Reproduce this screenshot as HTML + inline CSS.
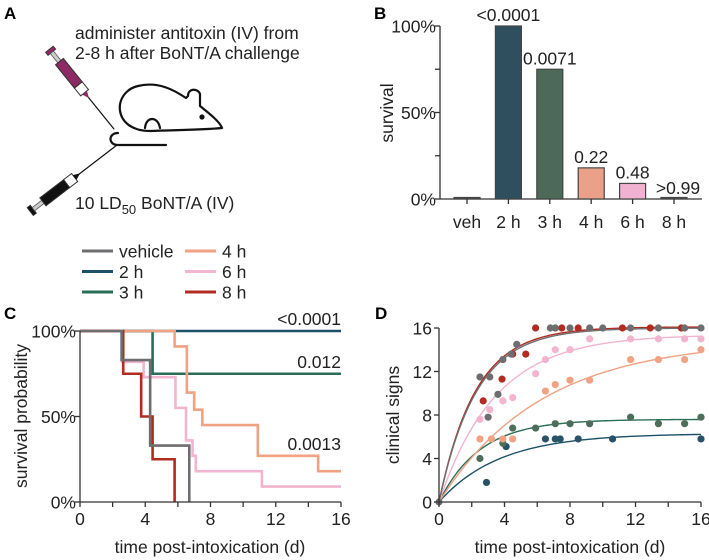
<!DOCTYPE html>
<html><head><meta charset="utf-8"><style>
body{margin:0;background:#fff;}
svg{display:block;font-family:"Liberation Sans",Arial,sans-serif;}
</style></head><body>
<svg id="fig" width="709" height="560" viewBox="0 0 709 560" xmlns="http://www.w3.org/2000/svg">
<!-- Panel A -->
<g>
<text x="4" y="19" font-size="17" font-weight="bold">A</text>
<text x="75" y="39" font-size="17.5" fill="#222">administer antitoxin (IV) from</text>
<text x="75" y="59" font-size="17.5" fill="#222">2-8 h after BoNT/A challenge</text>
<text x="75" y="209" font-size="17.5" fill="#222">10 LD<tspan font-size="13" dy="5">50</tspan><tspan dy="-5"> BoNT/A (IV)</tspan></text>
<g fill="none" stroke="#111" stroke-width="2.2" stroke-linecap="round" stroke-linejoin="round">
<path d="M150,131 C112,131 112,92 138,86 C158,81 174,90 186,98 L188,96 C188,88 198,88 200,94 L200,106 C210,114 220,122 222,128 C200,130 175,130 150,131"/>
<path d="M145,128 C146,116 158,116 160,128"/>
<path d="M118,133 C108,133 108,145 118,145 L166,145"/>
<circle cx="202" cy="117" r="1.5" fill="#111"/>
</g>
<g transform="translate(50,50) rotate(51)">
<line x1="60" y1="0" x2="102" y2="0" stroke="#111" stroke-width="1.2"/>
<rect x="-1" y="-5" width="4" height="10" fill="#8b2a63" stroke="#333" stroke-width="0.8"/>
<rect x="3" y="-2" width="12" height="4" fill="#ccc" stroke="#555" stroke-width="0.8"/>
<rect x="15" y="-5" width="30" height="10" fill="#8b2a63" stroke="#333" stroke-width="1"/>
<rect x="45" y="-5" width="10" height="10" fill="#fff" stroke="#333" stroke-width="1"/>
<polygon points="55,-3 62,0 55,3" fill="#8b2a63"/>
</g>
<g transform="translate(31,211) rotate(-37.5)">
<line x1="60" y1="0" x2="108" y2="0" stroke="#111" stroke-width="1.2"/>
<rect x="-1" y="-5" width="4" height="10" fill="#111" stroke="#333" stroke-width="0.8"/>
<rect x="3" y="-2" width="12" height="4" fill="#ccc" stroke="#555" stroke-width="0.8"/>
<rect x="15" y="-5" width="30" height="10" fill="#111" stroke="#333" stroke-width="1"/>
<rect x="45" y="-5" width="10" height="10" fill="#fff" stroke="#333" stroke-width="1"/>
<polygon points="55,-3 62,0 55,3" fill="#111"/>
</g>
</g>
<!-- Legend -->
<g id="legend"></g>
<!-- Panel B -->
<g id="pb">
<text x="374" y="19" font-size="17" font-weight="bold">B</text>
</g>
<!-- Panel C -->
<g id="pc">
<text x="4" y="319" font-size="17" font-weight="bold">C</text>
</g>
<!-- Panel D -->
<g id="pd">
<text x="375" y="319" font-size="17" font-weight="bold">D</text>
</g>
</svg>
<script>
// ---- shared series ----
const groups = ["vehicle","2 h","3 h","4 h","6 h","8 h"];
const lineColors = ["#6d6e70","#1c5068","#2a6e55","#f0a283","#f2b4cf","#b22b20"];
// ---- Panel B data ----
const barCats = ["veh","2 h","3 h","4 h","6 h","8 h"];
const barVals = [0,100,75,18,9,0];
const barPvals = ["","<0.0001","0.0071","0.22","0.48",">0.99"];
const barFills = ["#555","#2f4f5f","#4d6a58","#eba08a","#f1b2d2","#555"];
const bTicks = [0,50,100];
// ---- Panel C data (Kaplan-Meier steps: [time, survival after]) ----
const kmVehicle = [[0,100],[2.55,83],[4.3,33],[6.7,0]];
const km2h = [[0,100]];
const km3h = [[0,100],[4.45,75]];
const km4h = [[0,100],[5.8,91],[6.55,64],[7.0,54],[7.5,45],[10.9,27],[14.6,18]];
const km6h = [[0,100],[2.6,82],[3.9,73],[5.85,55],[6.5,36],[6.9,27],[7.1,18],[11.15,9]];
const km8h = [[0,100],[2.65,75],[3.75,50],[4.45,25],[5.8,0]];
const kmEnd = [6.7,16,16,16,16,5.8];
const kmPvals = [["<0.0001",100],["0.012",75],["0.0013",27]];
const cXTicks = [0,4,8,12,16];
const cYTicks = [0,50,100];
// ---- Panel D data ----
const ptsVehicle = [[0,0],[2.5,11.5],[3.1,11.5],[3.0,7.8],[3.6,9.9],[3.9,13.1],[4.4,13.6],[4.75,14.5],[6.8,16],[7.1,16],[8,16],[9.2,16],[10,16],[11.7,16],[13.4,16],[15,16],[16,16]];
const pts2h = [[2.9,1.8],[4.1,5.1],[6.5,5.8],[7.1,5.8],[7.4,5.8],[8.5,5.8],[10.6,5.8],[16,5.8]];
const pts3h = [[2.5,4],[3.9,5.4],[4.5,6.8],[5.9,6.8],[7.1,7.2],[8,7.2],[9.2,7.2],[11.7,7.8],[13.4,7.2],[15,7.2],[16,7.8]];
const pts4h = [[2.5,5.8],[3.2,5.8],[3.9,5.8],[4.5,5.8],[6.5,10.2],[7.1,10.8],[8,11.2],[9.2,11.2],[11.7,13.1],[13.4,13.1],[15,13.1],[16,14]];
const pts6h = [[2.5,7.6],[3.1,8.5],[3.9,9.3],[4.5,9.6],[5.9,11.8],[6.5,13.1],[7.1,14],[8,14],[9.2,15],[11.7,15],[13.4,15],[15,15],[16,15]];
const pts8h = [[2.7,9.3],[3.85,11.3],[4.5,13.6],[5.3,13.6],[5.9,16],[7.1,16],[7.5,16],[8.5,16],[11.2,16],[12.9,16],[14.8,16]];
const fitMax = [16.0,6.3,7.6,14.9,15.4,16.1];
const fitRate = [0.44,0.27,0.40,0.16,0.29,0.45];
const dTicks = [0,4,8,12,16];

const FS=17.5, BO=6.3;
const NS="http://www.w3.org/2000/svg";
function mk(tag,attrs,parent){const e=document.createElementNS(NS,tag);for(const k in attrs)e.setAttribute(k,attrs[k]);parent.appendChild(e);return e;}
function txt(s,attrs,parent){const e=mk("text",attrs,parent);e.textContent=s;return e;}

// Legend
const lg=document.getElementById("legend");
groups.forEach((g,i)=>{
  const col=i<3?0:1,row=i%3;
  const x=col?185:82, y=251+row*20.5;
  const item=mk("g",{},lg);
  
  
  mk("line",{x1:x,y1:y,x2:x+31,y2:y,stroke:lineColors[i],"stroke-width":3},item);
  txt(g,{x:x+37,y:y+BO,"font-size":FS,fill:"#222"},item);
});

// Panel B
const pb=document.getElementById("pb");
const bx0=440,bx1=702,by0=199,by1=26;
const bY=v=>by0+(by1-by0)*v/100;
const bX=i=>467+i*41.4;
mk("line",{x1:bx0,y1:by1,x2:bx0,y2:by0,stroke:"#333","stroke-width":1.3},pb);
mk("line",{x1:bx0,y1:by0,x2:bx1,y2:by0,stroke:"#333","stroke-width":1.3},pb);
[0,25,50,75,100].forEach(v=>mk("line",{x1:bx0-5,y1:bY(v),x2:bx0,y2:bY(v),stroke:"#333","stroke-width":1.3},pb));
bTicks.forEach(v=>{const t=txt(v+"%",{x:bx0-4,y:bY(v)+BO,"font-size":FS,"text-anchor":"end",fill:"#222"},pb);
  });
const yt=txt("survival",{x:0,y:0,"font-size":FS,"text-anchor":"middle",fill:"#222",transform:"translate(393,113) rotate(-90)"},pb);

barCats.forEach((c,i)=>{
  const h=Math.max(bY(0)-bY(barVals[i]),1.5);
  const r=mk("rect",{x:bX(i)-13,y:bY(0)-h,width:26,height:h,fill:barFills[i],stroke:"#444","stroke-width":1.2},pb);
  
  mk("line",{x1:bX(i),y1:by0,x2:bX(i),y2:by0+5,stroke:"#333","stroke-width":1.3},pb);
  const l=txt(c,{x:bX(i),y:228,"font-size":FS,"text-anchor":"middle",fill:"#222"},pb);
  
  if(barPvals[i]){const p=txt(barPvals[i],{x:bX(i)+(i==5?4:0),y:bY(barVals[i])-5,"font-size":FS,"text-anchor":"middle",fill:"#222"},pb);
    }
});

// Panel C
const pc=document.getElementById("pc");
const cX=t=>80+t*(341-80)/16, cY=v=>502+(331-502)*v/100;
const kms=[kmVehicle,km2h,km3h,km4h,km6h,km8h];
[2,1,3,4,5,0].forEach(i=>{
  const s=kms[i];let d="M"+cX(0)+","+cY(s[0][1]);
  for(let k=1;k<s.length;k++){d+=" H"+cX(s[k][0])+" V"+cY(s[k][1]);}
  d+=" H"+cX(kmEnd[i]);
  const p=mk("path",{d:d,fill:"none",stroke:lineColors[i],"stroke-width":2.6},pc);
  
});
mk("line",{x1:80,y1:331,x2:80,y2:502,stroke:"#333","stroke-width":1.3},pc);
mk("line",{x1:80,y1:502,x2:341,y2:502,stroke:"#333","stroke-width":1.3},pc);
for(let t=0;t<=16;t+=2)mk("line",{x1:cX(t),y1:502,x2:cX(t),y2:507,stroke:"#333","stroke-width":1.3},pc);
cXTicks.forEach(t=>{const e=txt(String(t),{x:cX(t),y:525,"font-size":FS,"text-anchor":"middle",fill:"#222"},pc);
  });
cYTicks.forEach(v=>{mk("line",{x1:75,y1:cY(v),x2:80,y2:cY(v),stroke:"#333","stroke-width":1.3},pc);
  const e=txt(v+"%",{x:76,y:cY(v)+BO,"font-size":FS,"text-anchor":"end",fill:"#222"},pc);
  });
kmPvals.forEach(p=>{const e=txt(p[0],{x:341,y:cY(p[1])-6,"font-size":FS,"text-anchor":"end",fill:"#222"},pc);
  });
const cxt=txt("time post-intoxication (d)",{x:210,y:553,"font-size":FS,"text-anchor":"middle",fill:"#222"},pc);

const cyt=txt("survival probability",{x:0,y:0,"font-size":FS,"text-anchor":"middle",fill:"#222",transform:"translate(27,416) rotate(-90)"},pc);


// Panel D
const pd=document.getElementById("pd");
const dX=t=>439+t*(701-439)/16, dY=v=>502+(328-502)*v/16;
const pts=[ptsVehicle,pts2h,pts3h,pts4h,pts6h,pts8h];
[1,2,3,4,5,0].forEach(i=>{
  let d="";for(let k=0;k<=80;k++){const t=16*k/80;const v=fitMax[i]*(1-Math.exp(-fitRate[i]*t));d+=(k?"L":"M")+dX(t).toFixed(2)+","+dY(v).toFixed(2);}
  const p=mk("path",{d:d,fill:"none",stroke:lineColors[i],"stroke-width":1.4},pd);
  
});
const dotCols=["#6d6e70","#2a5266","#4e6d5a","#f0a283","#f2b4cf","#b22b20"];
[1,2,3,4,5,0].forEach(i=>{
  pts[i].forEach(q=>{const c=mk("circle",{cx:dX(q[0]),cy:dY(q[1]),r:3.6,fill:dotCols[i]},pd);
    });
});
mk("line",{x1:439,y1:328,x2:439,y2:502,stroke:"#333","stroke-width":1.3},pd);
mk("line",{x1:439,y1:502,x2:701,y2:502,stroke:"#333","stroke-width":1.3},pd);
for(let t=0;t<=16;t+=2)mk("line",{x1:dX(t),y1:502,x2:dX(t),y2:507,stroke:"#333","stroke-width":1.3},pd);
dTicks.forEach(t=>{const e=txt(String(t),{x:dX(t),y:525,"font-size":FS,"text-anchor":"middle",fill:"#222"},pd);
  
  mk("line",{x1:434,y1:dY(t),x2:439,y2:dY(t),stroke:"#333","stroke-width":1.3},pd);
  const f=txt(String(t),{x:432,y:dY(t)+BO,"font-size":FS,"text-anchor":"end",fill:"#222"},pd);
  });
const dxt=txt("time post-intoxication (d)",{x:570,y:553,"font-size":FS,"text-anchor":"middle",fill:"#222"},pd);

const dyt=txt("clinical signs",{x:0,y:0,"font-size":FS,"text-anchor":"middle",fill:"#222",transform:"translate(399,415) rotate(-90)"},pd);

</script>
</body></html>
